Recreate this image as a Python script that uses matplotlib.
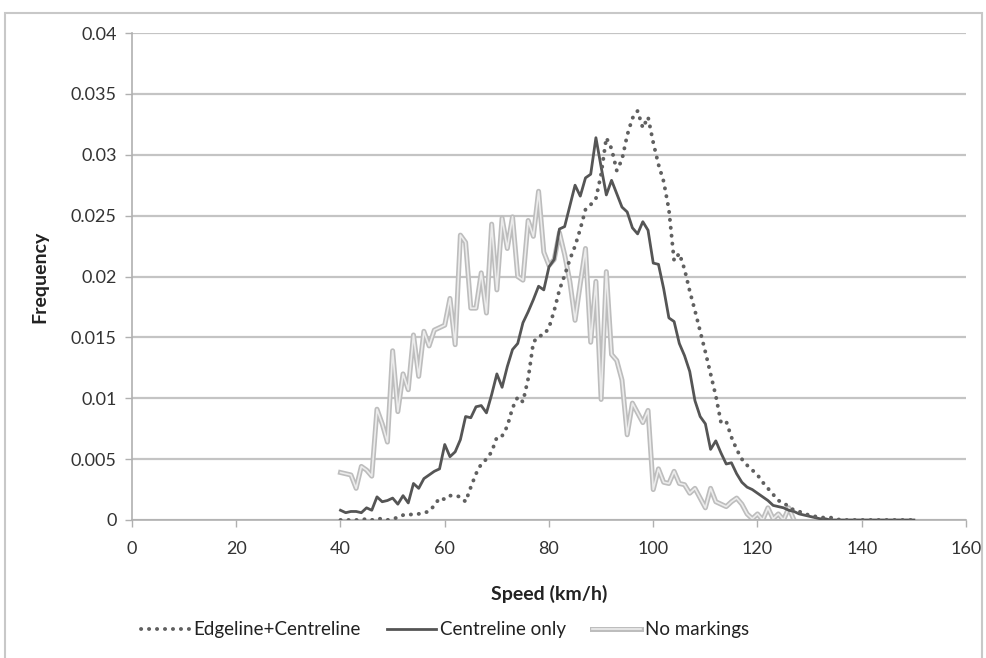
import numpy as np
import matplotlib
matplotlib.use("Agg")
import matplotlib.pyplot as plt
from matplotlib.patches import Rectangle
from matplotlib.legend_handler import HandlerTuple

plt.rcParams['font.family'] = ['Lato', 'DejaVu Sans']

speed_edge = list(range(40, 151))
edgeline_centreline = [
    0.0000, 0.0000, 0.0000, 0.0000, 0.0000, 0.0001, 0.0000, 0.0001, 0.0001, 0.0000,  # 40-49
    0.0001, 0.0002, 0.0004, 0.0004, 0.0005, 0.0005, 0.0006, 0.0007, 0.0012, 0.0018,  # 50-59
    0.0017, 0.0020, 0.0020, 0.0019, 0.0015, 0.0027, 0.0038, 0.0046, 0.0050, 0.0056,  # 60-69
    0.0068, 0.0069, 0.0077, 0.0092, 0.0101, 0.0097, 0.0116, 0.0146, 0.0151, 0.0152,  # 70-79
    0.0158, 0.0172, 0.0189, 0.0201, 0.0214, 0.0225, 0.0239, 0.0255, 0.0259, 0.0264,  # 80-89
    0.0284, 0.0314, 0.0305, 0.0287, 0.0296, 0.0316, 0.0330, 0.0336, 0.0322, 0.0331,  # 90-99
    0.0310, 0.0292, 0.0278, 0.0255, 0.0213, 0.0219, 0.0206, 0.0188, 0.0172, 0.0155,  # 100-109
    0.0138, 0.0120, 0.0102, 0.0080, 0.0081, 0.0068, 0.0058, 0.0050, 0.0045, 0.0041,  # 110-119
    0.0037, 0.0031, 0.0026, 0.0021, 0.0016, 0.0014, 0.0011, 0.0008, 0.0007, 0.0005,  # 120-129
    0.0004, 0.0003, 0.0002, 0.0002, 0.0002, 0.0001, 0.0000, 0.0000, 0.0000, 0.0000,  # 130-139
    0.0000, 0.0000, 0.0000, 0.0000, 0.0000, 0.0000, 0.0000, 0.0000, 0.0000, 0.0000,  # 140-149
    0.0000,                                                                          # 150
]

speed_centre = list(range(40, 151))
centreline_only = [
    0.0008, 0.0006, 0.0007, 0.0007, 0.0006, 0.0010, 0.0008, 0.0019, 0.0015, 0.0016,  # 40-49
    0.0018, 0.0013, 0.0020, 0.0014, 0.0030, 0.0026, 0.0034, 0.0037, 0.0040, 0.0042,  # 50-59
    0.0062, 0.0052, 0.0056, 0.0066, 0.0085, 0.0084, 0.0093, 0.0094, 0.0088, 0.0103,  # 60-69
    0.0120, 0.0109, 0.0126, 0.0140, 0.0145, 0.0162, 0.0171, 0.0181, 0.0192, 0.0189,  # 70-79
    0.0208, 0.0214, 0.0239, 0.0241, 0.0258, 0.0275, 0.0266, 0.0281, 0.0284, 0.0314,  # 80-89
    0.0290, 0.0267, 0.0279, 0.0268, 0.0257, 0.0253, 0.0240, 0.0235, 0.0245, 0.0238,  # 90-99
    0.0211, 0.0210, 0.0190, 0.0166, 0.0163, 0.0145, 0.0135, 0.0122, 0.0098, 0.0085,  # 100-109
    0.0079, 0.0058, 0.0065, 0.0055, 0.0046, 0.0047, 0.0038, 0.0031, 0.0027, 0.0025,  # 110-119
    0.0022, 0.0019, 0.0016, 0.0012, 0.0011, 0.0010, 0.0008, 0.0007, 0.0005, 0.0004,  # 120-129
    0.0003, 0.0002, 0.0001, 0.0001, 0.0000, 0.0000, 0.0000, 0.0000, 0.0000, 0.0000,  # 130-139
    0.0000, 0.0000, 0.0000, 0.0000, 0.0000, 0.0000, 0.0000, 0.0000, 0.0000, 0.0000,  # 140-149
    0.0000,                                                                          # 150
]

speed_none = list(range(40, 128))
no_markings = [
    0.0039, 0.0038, 0.0037, 0.0026, 0.0044, 0.0041, 0.0036, 0.0091, 0.0079, 0.0064,  # 40-49
    0.0139, 0.0089, 0.0120, 0.0107, 0.0152, 0.0118, 0.0155, 0.0143, 0.0156, 0.0158,  # 50-59
    0.0160, 0.0182, 0.0144, 0.0234, 0.0228, 0.0174, 0.0174, 0.0203, 0.0170, 0.0243,  # 60-69
    0.0189, 0.0248, 0.0223, 0.0249, 0.0200, 0.0197, 0.0246, 0.0233, 0.0270, 0.0220,  # 70-79
    0.0209, 0.0214, 0.0236, 0.0218, 0.0196, 0.0164, 0.0194, 0.0223, 0.0146, 0.0196,  # 80-89
    0.0099, 0.0204, 0.0136, 0.0131, 0.0115, 0.0070, 0.0096, 0.0088, 0.0080, 0.0090,  # 90-99
    0.0025, 0.0042, 0.0031, 0.0030, 0.0040, 0.0030, 0.0029, 0.0022, 0.0026, 0.0018,  # 100-109
    0.0010, 0.0026, 0.0015, 0.0013, 0.0011, 0.0015, 0.0018, 0.0013, 0.0005, 0.0001,  # 110-119
    0.0005, 0.0000, 0.0010, 0.0001, 0.0005, 0.0000, 0.0010, 0.0000,                  # 120-127
]

x_ticks = [0, 20, 40, 60, 80, 100, 120, 140, 160]
y_ticks = [0, 0.005, 0.01, 0.015, 0.02, 0.025, 0.03, 0.035, 0.04]
y_tick_labels = ['0', '0.005', '0.01', '0.015', '0.02', '0.025', '0.03', '0.035', '0.04']

W, H = 987, 658
fig = plt.figure(figsize=(W / 100, H / 100), dpi=100)
ax = fig.add_axes([132 / W, 1 - 520 / H, (966 - 132) / W, (520 - 33) / H])

ax.set_xlim(0, 160)
ax.set_ylim(0, 0.04)
ax.set_xticks(x_ticks)
ax.set_yticks(y_ticks)
ax.set_yticklabels(y_tick_labels)
ax.yaxis.grid(True, color='#c4c4c4', lw=1.6)
ax.set_axisbelow(True)
for s in ['top', 'right']:
    ax.spines[s].set_visible(False)
for s in ['left', 'bottom']:
    ax.spines[s].set_color('#b0b0b0')
    ax.spines[s].set_linewidth(1.2)
ax.tick_params(axis='both', colors='#b0b0b0', labelcolor='#333333', labelsize=13,
               length=5, width=1.0, direction='out')
ax.tick_params(axis='x', pad=10)
ax.tick_params(axis='y', pad=6)

l_none_outer, = ax.plot(speed_none, no_markings, color='#bdbdbd', lw=3.6,
                        solid_joinstyle='round', zorder=2)
l_none_inner, = ax.plot(speed_none, no_markings, color='#ececec', lw=1.2,
                        solid_joinstyle='round', zorder=2.1)
l_centre, = ax.plot(speed_centre, centreline_only, color='#555555', lw=2.0,
                    solid_joinstyle='round', zorder=3)
l_edge, = ax.plot(speed_edge, edgeline_centreline, color='#606060', lw=2.8,
                  linestyle=(0, (0.05, 2.0)), dash_capstyle='round', zorder=4)

ax.set_xlabel('Speed (km/h)', fontsize=14, fontweight='bold', color='#222222', labelpad=20)
ax.set_ylabel('Frequency', fontsize=14, fontweight='bold', color='#222222', labelpad=16)

leg = fig.legend([l_edge, l_centre, (l_none_outer, l_none_inner)],
                 ['Edgeline+Centreline', 'Centreline only', 'No markings'],
                 handler_map={tuple: HandlerTuple(ndivide=1)},
                 loc='center', bbox_to_anchor=(445 / W, 1 - 630 / H), ncol=3,
                 frameon=False, fontsize=13.5, handlelength=2.6, handletextpad=0.2,
                 columnspacing=1.4)
for t in leg.get_texts():
    t.set_color('#222222')

border = Rectangle((5 / W, -0.05), (982 - 5) / W, 1 - 13 / H + 0.05,
                   transform=fig.transFigure, fill=False, edgecolor='#c8c8c8',
                   lw=1.5, clip_on=False)
fig.patches.append(border)

fig.savefig('out.png', dpi=100, facecolor='white')
